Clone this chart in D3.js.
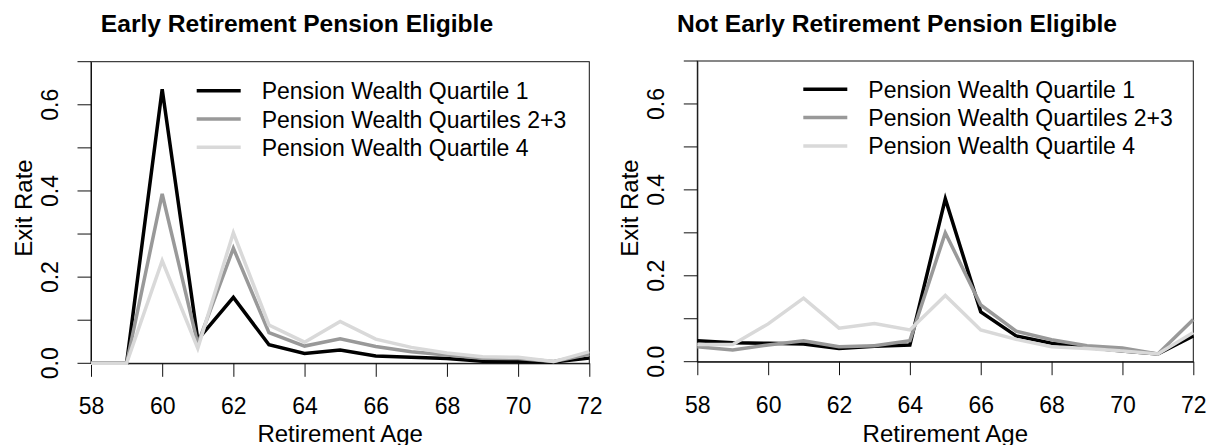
<!DOCTYPE html>
<html>
<head>
<meta charset="utf-8">
<script src="https://cdn.jsdelivr.net/npm/d3@7"></script>
<style>
  body { margin: 0; background: #fff; }
  svg { display: block; font-family: "Liberation Sans", Arial, sans-serif; }
</style>
</head>
<body>
<svg id="chart" width="1208" height="445"></svg>
<script>
// retirement ages (x axis)
var ages = [58, 59, 60, 61, 62, 63, 64, 65, 66, 67, 68, 69, 70, 71, 72];
var xTicks = [58, 60, 62, 64, 66, 68, 70, 72];
var yTicks = [0, 0.1, 0.2, 0.3, 0.4, 0.5, 0.6, 0.7];

var seriesNames = ["Pension Wealth Quartile 1", "Pension Wealth Quartiles 2+3", "Pension Wealth Quartile 4"];
var seriesColors = ["#000000", "#999999", "#d9d9d9"];

// early retirement pension eligible
var eligQ1  = [0, 0, 0.636, 0.055, 0.153, 0.043, 0.023, 0.031, 0.017, 0.014, 0.011, 0.005, 0.004, 0.003, 0.012];
var eligQ23 = [0, 0, 0.393, 0.045, 0.267, 0.071, 0.040, 0.057, 0.039, 0.027, 0.019, 0.012, 0.011, 0.004, 0.021];
var eligQ4  = [0, 0, 0.238, 0.035, 0.303, 0.089, 0.049, 0.097, 0.056, 0.037, 0.024, 0.015, 0.014, 0.004, 0.027];

// not early retirement pension eligible
var notQ1  = [0.049, 0.044, 0.043, 0.041, 0.031, 0.036, 0.039, 0.379, 0.116, 0.060, 0.043, 0.033, 0.025, 0.018, 0.060];
var notQ23 = [0.035, 0.027, 0.039, 0.049, 0.035, 0.037, 0.049, 0.300, 0.132, 0.071, 0.051, 0.037, 0.032, 0.018, 0.098];
var notQ4  = [0.040, 0.040, 0.088, 0.148, 0.078, 0.089, 0.074, 0.154, 0.074, 0.052, 0.035, 0.031, 0.025, 0.018, 0.068];

var panels = [
  {title: "Early Retirement Pension Eligible", titleX: 297,
   left: 91, right: 589.3, top: 61.7, bottom: 363.3, legX: 196.7, legY: 90.7,
   series: [eligQ1, eligQ23, eligQ4]},
  {title: "Not Early Retirement Pension Eligible", titleX: 897,
   left: 697.3, right: 1193.3, top: 61, bottom: 361.7, legX: 803.3, legY: 89.3,
   series: [notQ1, notQ23, notQ4]}
];

var svg = d3.select("#chart");

function draw_panel(p){
  var g = svg.append("g");
  var x = d3.scaleLinear().domain([58, 72]).range([p.left, p.right]);
  var y = d3.scaleLinear().domain([0, 0.7]).range([p.bottom, p.top]);

  // title
  g.append("text")
    .attr("x", p.titleX).attr("y", 32)
    .attr("text-anchor", "middle")
    .attr("font-weight", "bold")
    .attr("font-size", "24.6px")
    .text(p.title);

  // box
  g.append("rect")
    .attr("x", p.left).attr("y", p.top)
    .attr("width", p.right - p.left).attr("height", p.bottom - p.top)
    .attr("fill", "none").attr("stroke", "#111").attr("stroke-width", 1);

  // x axis
  var xAxis = g.append("g")
    .attr("transform", "translate(0," + p.bottom + ")")
    .call(d3.axisBottom(x).tickValues(xTicks).tickSize(13.5).tickSizeOuter(0).tickPadding(21).tickFormat(d3.format("d")));
  xAxis.selectAll("text").attr("font-size", "23px").attr("fill", "#000").attr("font-family", null);
  xAxis.selectAll("line, path").attr("stroke", "#111");

  // y axis, labels only on every other tick
  var yAxis = g.append("g")
    .attr("transform", "translate(" + p.left + ",0)")
    .call(d3.axisLeft(y).tickValues(yTicks).tickSize(13.5).tickSizeOuter(0)
      .tickFormat(function(d, i){ return i % 2 === 0 ? d3.format(".1f")(d) : ""; }));
  yAxis.selectAll("line, path").attr("stroke", "#111");
  yAxis.selectAll("text")
    .attr("font-size", "23px").attr("fill", "#000").attr("font-family", null)
    .attr("text-anchor", "middle").attr("dy", null)
    .attr("x", null)
    .attr("transform", function(d){ return "translate(-33," + y(d) + ") rotate(-90)"; })
    .attr("y", 0);
  yAxis.selectAll(".tick").attr("transform", null);
  yAxis.selectAll(".tick line").attr("y1", function(d){ return y(d); }).attr("y2", function(d){ return y(d); });

  // axis titles
  g.append("text")
    .attr("x", (p.left + p.right) / 2).attr("y", 441.5)
    .attr("text-anchor", "middle").attr("font-size", "24px")
    .text("Retirement Age");
  g.append("text")
    .attr("transform", "translate(" + (p.left - 59.5) + ",208) rotate(-90)")
    .attr("text-anchor", "middle").attr("font-size", "24px")
    .text("Exit Rate");

  // lines
  var line = d3.line()
    .x(function(d, i){ return x(ages[i]); })
    .y(function(d){ return y(d); });
  p.series.forEach(function(s, k){
    g.append("path")
      .datum(s)
      .attr("d", line)
      .attr("fill", "none")
      .attr("stroke", seriesColors[k])
      .attr("stroke-width", 3.5)
      .attr("stroke-linejoin", "miter");
  });

  // legend
  seriesNames.forEach(function(name, k){
    var ly = p.legY + k * 28.3;
    g.append("line")
      .attr("x1", p.legX).attr("x2", p.legX + 44)
      .attr("y1", ly).attr("y2", ly)
      .attr("stroke", seriesColors[k]).attr("stroke-width", 3.5);
    g.append("text")
      .attr("x", p.legX + 65).attr("y", ly + 8.5)
      .attr("font-size", "23px")
      .text(name);
  });
}

panels.forEach(draw_panel);
</script>
</body>
</html>
